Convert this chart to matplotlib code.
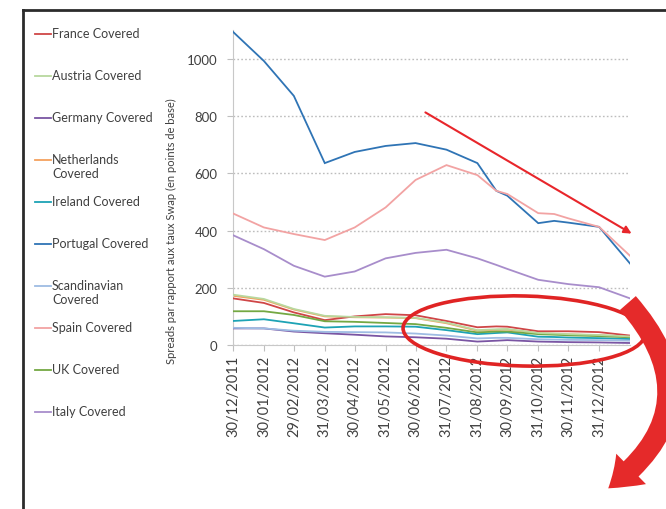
import numpy as np
import pandas as pd
import matplotlib
matplotlib.use("Agg")
import matplotlib.pyplot as plt
import matplotlib.dates as mdates
from matplotlib.lines import Line2D
from matplotlib.patches import Ellipse, FancyArrowPatch

plt.rcParams['font.family'] = ['Lato', 'DejaVu Sans']

# ─── données ─────────────────────────────────────────
dates = pd.to_datetime([
    "2011-12-30", "2012-01-30", "2012-02-29", "2012-03-31", "2012-04-30",
    "2012-05-31", "2012-06-30", "2012-07-31", "2012-08-31", "2012-09-19",
    "2012-09-30", "2012-10-31", "2012-11-16", "2012-11-30", "2012-12-31",
    "2013-01-31",
])
tick_dates = pd.to_datetime([
    "2011-12-30", "2012-01-30", "2012-02-29", "2012-03-31", "2012-04-30",
    "2012-05-31", "2012-06-30", "2012-07-31", "2012-08-31", "2012-09-30",
    "2012-10-31", "2012-11-30", "2012-12-31",
])

france = [163, 147, 114, 87, 100, 108, 104, 84, 62, 65, 64, 48, 48, 48, 45, 33]
austria = [176, 161, 126, 102, 98, 97, 95, 78, 52, 55, 56, 42, 40, 38, 35, 30]
germany = [58, 58, 47, 41, 36, 30, 27, 22, 12, 15, 17, 12, 11, 10, 9, 7]
netherlands = [172, 158, 124, 100, 97, 96, 94, 76, 50, 53, 54, 41, 39, 37, 34, 29]
ireland = [84, 90, 76, 61, 65, 65, 64, 52, 38, 42, 44, 29, 28, 26, 24, 21]
portugal = [1095, 993, 871, 636, 675, 696, 706, 683, 636, 539, 522, 426, 434, 428, 413, 285]
scandinavian = [60, 58, 50, 46, 45, 44, 40, 33, 23, 25, 25, 20, 19, 18, 17, 15]
spain = [460, 411, 388, 367, 411, 481, 577, 629, 594, 539, 528, 461, 458, 443, 413, 312]
uk = [118, 118, 105, 83, 81, 77, 73, 60, 44, 47, 47, 38, 36, 34, 31, 27]
italy = [384, 335, 277, 239, 257, 303, 322, 333, 303, 280, 266, 228, 220, 213, 202, 163]

labels = ["France Covered", "Austria Covered", "Germany Covered",
          "Netherlands\nCovered", "Ireland Covered", "Portugal Covered",
          "Scandinavian\nCovered", "Spain Covered", "UK Covered", "Italy Covered"]
series = [france, austria, germany, netherlands, ireland, portugal,
          scandinavian, spain, uk, italy]
colors = ["#CF4647", "#B8D89E", "#7A55A3", "#F4A15E", "#1DA3B5", "#2F74B5",
          "#9EBCE3", "#F2A3A3", "#74A843", "#A88DCB"]
# Pays-Bas tracé sous l'Autriche
zorders = [3, 4, 3, 2, 3, 3, 3, 3, 3, 3]

W, H = 666, 510
TXT = '#404040'

fig = plt.figure(figsize=(W / 100, H / 100), dpi=100)
fig.patch.set_facecolor('white')
ax = fig.add_axes([233 / W, (H - 346) / H, (630 - 233) / W, (346 - 31.4) / H])

for vals, col, z in zip(series, colors, zorders):
    ax.plot(dates, vals, color=col, lw=1.3, zorder=z, solid_joinstyle='miter')

ax.set_ylim(0, 1100)
ax.set_xlim(dates[0], dates[-1])
ax.set_yticks([0, 200, 400, 600, 800, 1000])
ax.set_xticks(tick_dates)
ax.xaxis.set_major_formatter(mdates.DateFormatter('%d/%m/%Y'))
ax.tick_params(axis='x', rotation=90, labelsize=10.5, colors='#BFBFBF',
               labelcolor=TXT, length=4, pad=3)
ax.tick_params(axis='y', labelsize=9.5, colors='#BFBFBF', labelcolor=TXT,
               length=4, pad=7)
for lbl in ax.get_xticklabels():
    lbl.set_va('top')

ax.grid(axis='y', color='#BDBDBD', linestyle=(0, (1.2, 1.6)), lw=1.0)
ax.set_axisbelow(True)
for s in ['top', 'right']:
    ax.spines[s].set_visible(False)
ax.spines['left'].set_color('#C8C8C8')
ax.spines['bottom'].set_color('#C8C8C8')

ax.set_ylabel('Spreads par rapport aux taux Swap (en points de base)',
              fontsize=8, color=TXT)
ax.yaxis.set_label_coords(-0.14, 0.365)

# légende à gauche
for i, (lab, col) in enumerate(zip(labels, colors)):
    yc = H - 35 - 42 * i
    fig.add_artist(Line2D([35 / W, 51 / W], [yc / H, yc / H],
                          transform=fig.transFigure, color=col, lw=1.3))
    fig.text(52 / W, (yc + 7) / H, lab, fontsize=9, color=TXT,
             ha='left', va='top', linespacing=1.25)

# cadre
fig.add_artist(Line2D([23 / W, 23 / W], [0, (H - 11) / H],
                      transform=fig.transFigure, color='#2b2b2b', lw=2))
fig.add_artist(Line2D([23 / W, 1], [(H - 11) / H, (H - 11) / H],
                      transform=fig.transFigure, color='#2b2b2b', lw=2))

# flèche de tendance
fig.add_artist(FancyArrowPatch((423 / W, (H - 112) / H), (634 / W, (H - 236) / H),
                               transform=fig.transFigure, arrowstyle='-|>',
                               mutation_scale=11, color='#E8262B', lw=1.5))

# ellipse autour des spreads bas
fig.add_artist(Ellipse((524 / W, (H - 332) / H), 242 / W, 70 / H, angle=-2,
                       transform=fig.transFigure, fill=False,
                       edgecolor='#E02424', lw=2.6, zorder=10))

# flèche courbe
fig.add_artist(FancyArrowPatch((626 / W, (H - 302) / H), (606 / W, (H - 491) / H),
                               transform=fig.transFigure,
                               connectionstyle='arc3,rad=-0.55',
                               arrowstyle='simple,head_width=1.7,head_length=1.2,tail_width=0.85',
                               mutation_scale=18, color='#E52A2A', lw=0,
                               zorder=11))

fig.savefig('out.png', dpi=100, facecolor='white')
